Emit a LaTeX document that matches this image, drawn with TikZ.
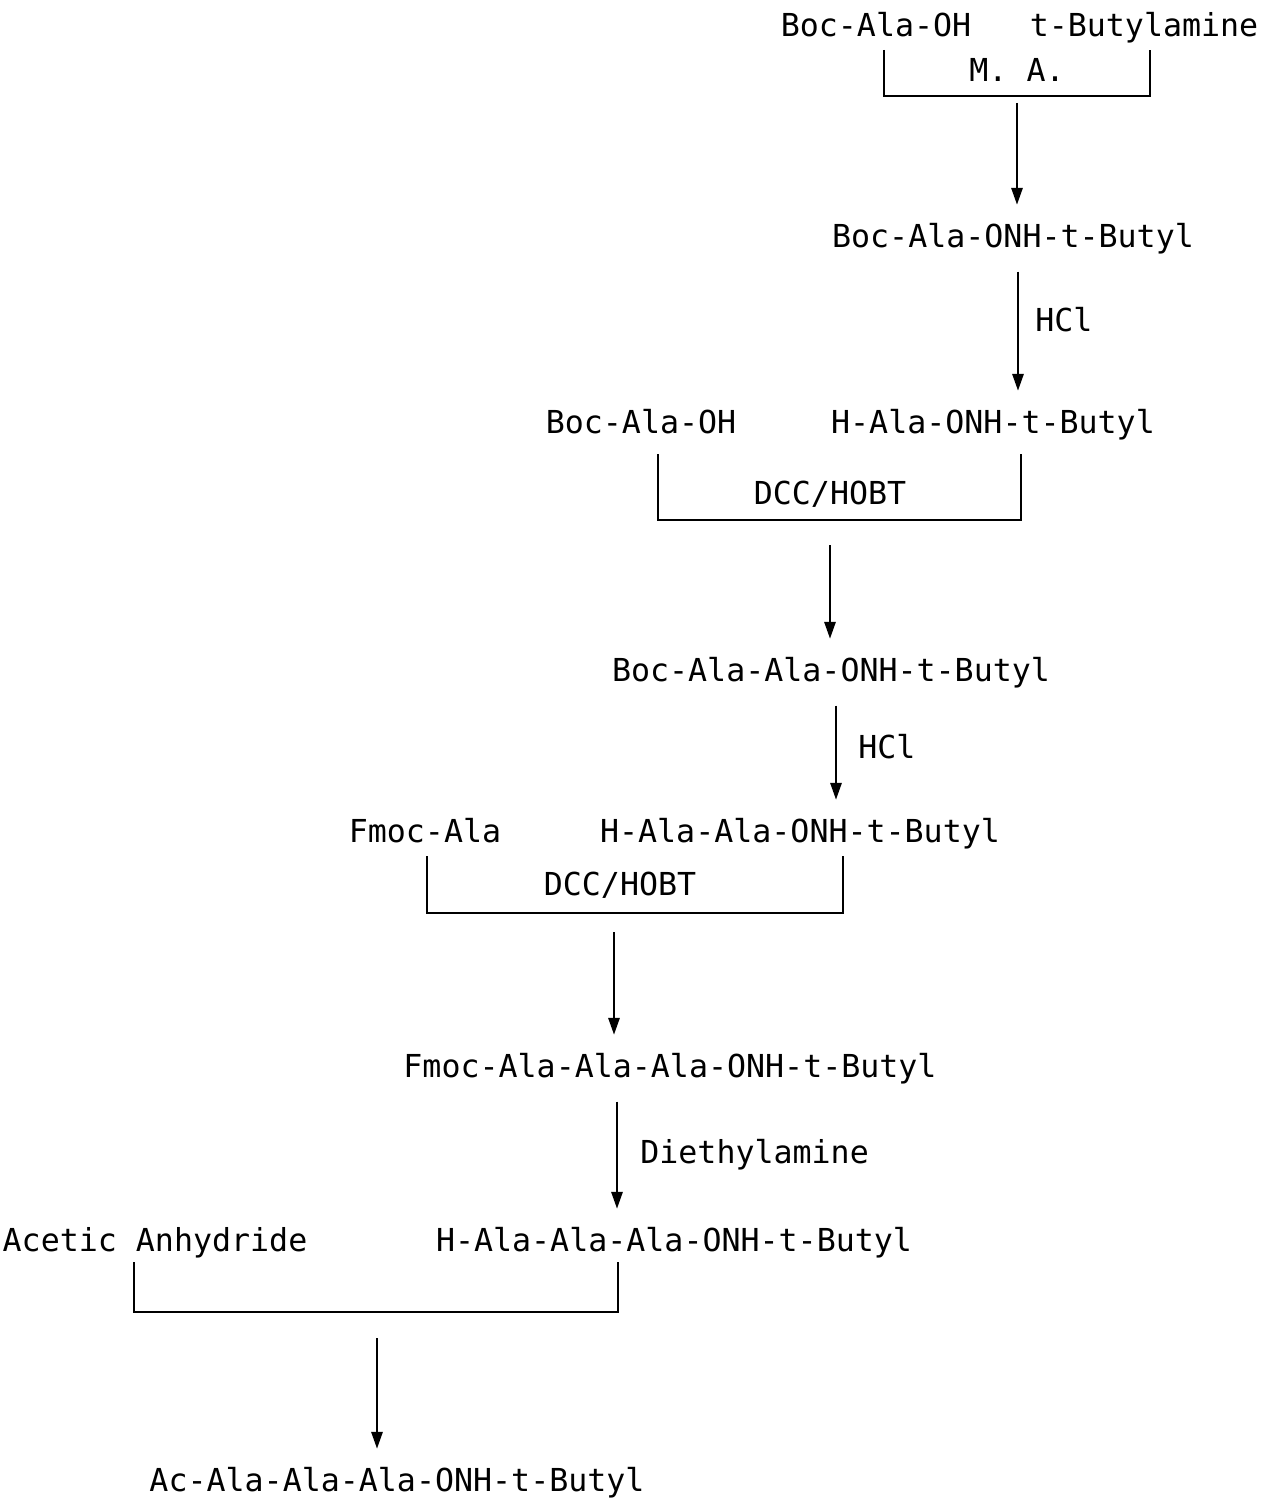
\documentclass[tikz,border=0pt]{standalone}
\usepackage{fontspec}
\setmonofont{DejaVu Sans Mono}
\usetikzlibrary{arrows.meta}

\begin{document}
\begin{tikzpicture}[x=0.02cm,y=-0.02cm,
    chem/.style={font=\ttfamily\fontsize{18}{20}\selectfont,inner sep=0pt,anchor=base},
    rxn/.style={-{Triangle[length=3.4mm,width=2.2mm]},line width=1.6pt,shorten >=10pt},
    bracket/.style={line width=1.6pt}]
  \useasboundingbox (0,0) rectangle (1262,1504);

  %------------------
  % 1段目: M. A.
  %------------------
  \node[chem] (bocala1) at (876,37) {Boc-Ala-OH};
  \node[chem] (tbuam) at (1144,37) {t-Butylamine};
  \coordinate (k1l) at (884,50);
  \coordinate (k1r) at (1150,50);
  \draw[bracket] (k1l) -- ++(0,46) -| (k1r);
  \node[chem] (ma) at (1017,82) {M. A.};

  \coordinate (s1) at (1017,103);
  \node[chem] (boconh) at (1013,247) {Boc-Ala-ONH-t-Butyl};
  \draw[rxn] (s1) -- (s1 |- boconh.north);

  % HCl
  \coordinate (x2) at (1018,0);
  \node[chem] (hala1) at (993,433) {H-Ala-ONH-t-Butyl};
  \draw[rxn,shorten <=10pt] (boconh.south -| x2) -- (x2 |- hala1.north);
  \node[chem,anchor=base west] (hcl1) at (1035,331) {HCl};

  %------------------
  % 2段目: DCC/HOBT
  %------------------
  \node[chem] (bocala2) at (641,433) {Boc-Ala-OH};
  \coordinate (k2l) at (658,454);
  \coordinate (k2r) at (1021,454);
  \draw[bracket] (k2l) -- ++(0,66) -| (k2r);
  \node[chem] (dcc1) at (830,504) {DCC/HOBT};

  \coordinate (s3) at (830,545);
  \node[chem] (dipep) at (831,681) {Boc-Ala-Ala-ONH-t-Butyl};
  \draw[rxn] (s3) -- (s3 |- dipep.north);

  % HCl
  \coordinate (x4) at (836,0);
  \node[chem] (hala2) at (800,842) {H-Ala-Ala-ONH-t-Butyl};
  \draw[rxn,shorten <=10pt] (dipep.south -| x4) -- (x4 |- hala2.north);
  \node[chem,anchor=base west] (hcl2) at (858,758) {HCl};

  %------------------
  % 3段目: DCC/HOBT
  %------------------
  \node[chem] (fmoc) at (425,842) {Fmoc-Ala};
  \coordinate (k3l) at (427,856);
  \coordinate (k3r) at (843,856);
  \draw[bracket] (k3l) -- ++(0,57) -| (k3r);
  \node[chem] (dcc2) at (620,895) {DCC/HOBT};

  \coordinate (s5) at (614,932);
  \node[chem] (tripep) at (670,1077) {Fmoc-Ala-Ala-Ala-ONH-t-Butyl};
  \draw[rxn] (s5) -- (s5 |- tripep.north);

  % Diethylamine
  \coordinate (x6) at (617,0);
  \node[chem] (hala3) at (674,1251) {H-Ala-Ala-Ala-ONH-t-Butyl};
  \draw[rxn,shorten <=10pt] (tripep.south -| x6) -- (x6 |- hala3.north);
  \node[chem,anchor=base west] (deam) at (640,1163) {Diethylamine};

  %------------------
  % 4段目: アセチル化
  %------------------
  \node[chem] (acan) at (155,1251) {Acetic Anhydride};
  \coordinate (k4l) at (134,1262);
  \coordinate (k4r) at (618,1262);
  \draw[bracket] (k4l) -- ++(0,50) -| (k4r);

  \coordinate (s7) at (377,1338);
  \node[chem] (actri) at (397,1491) {Ac-Ala-Ala-Ala-ONH-t-Butyl};
  \draw[rxn] (s7) -- (s7 |- actri.north);
\end{tikzpicture}
\end{document}
